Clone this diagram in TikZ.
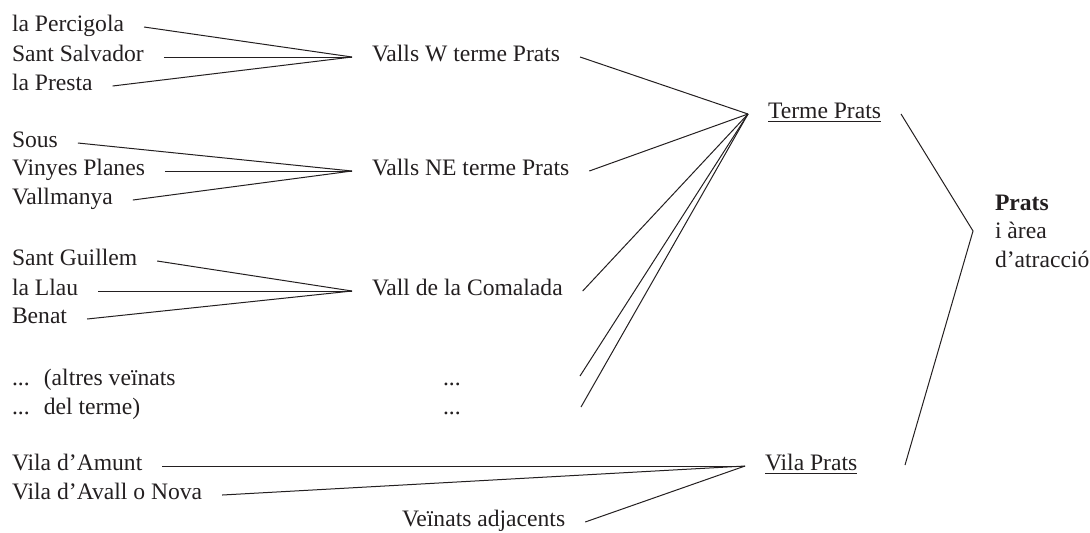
\documentclass[tikz,border=0pt]{standalone}
\usepackage{fontspec}
\setmainfont{Liberation Serif}
\definecolor{ink}{HTML}{231F20}

\begin{document}
\begin{tikzpicture}[x=0.5pt,y=-0.5pt,
    every node/.style={inner sep=0pt, text=ink, font=\fontsize{11.8}{14.3}\selectfont},
    item/.style={anchor=mid west, outer xsep=10pt},
    link/.style={draw=ink, line width=0.5pt}]
    \useasboundingbox (0,0) rectangle (1090,532);

    % veinats
    \foreach \n/\t/\y in {pgo/la Percigola/27, ssa/Sant Salvador/57, pre/la Presta/86,
                          sou/Sous/143, vpl/Vinyes Planes/171, vmy/Vallmanya/200,
                          sgu/Sant Guillem/261, lla/la Llau/291, ben/Benat/319,
                          ama/Vila d'Amunt/466, ava/Vila d'Avall o Nova/495}
    \node[item] (\n) at (-8,\y) {\t};

    \node[item] (alt) at (-8,381) {...\hspace{.6em}(altres veïnats};
    \node[item] (del) at (-8,410) {...\hspace{.6em}del terme)};

    % valls
    \node[item] (vW) at (352,57) {Valls W terme Prats};
    \node[item] (vNE) at (352,171) {Valls NE terme Prats};
    \node[item] (vCo) at (352,291) {Vall de la Comalada};
    \node[item] (dotsA) at (423,381) {...};
    \node[item] (dotsB) at (423,410) {...};
    \coordinate (endA) at (580,376);
    \coordinate (endB) at (581,407);
    \node[item] (adj) at (382,522) {Veïnats adjacents};

    % terme i vila
    \node[item] (terme) at (748,114) {\underline{Terme Prats}};
    \node[item] (vila) at (745,466) {\underline{Vila Prats}};
    \node[anchor=west, outer xsep=11pt, align=left] (prats) at (973,231)
        {\textbf{Prats}\\i àrea\\d'atracció};
    \coordinate (brb) at (905,465);

    \foreach \a/\b in {pgo/vW, ssa/vW, pre/vW, sou/vNE, vpl/vNE, vmy/vNE,
                       sgu/vCo, lla/vCo, ben/vCo, ama/vila, ava/vila, adj/vila}
    \draw[link] (\a.mid east) -- (\b.mid west);

    \foreach \a in {vW.mid east, vNE.mid east, vCo.mid east, endA, endB}
    \draw[link] (\a) -- (terme.mid west);

    \draw[link] (terme.mid east) -- (prats.west) -- (brb);
\end{tikzpicture}
\end{document}
